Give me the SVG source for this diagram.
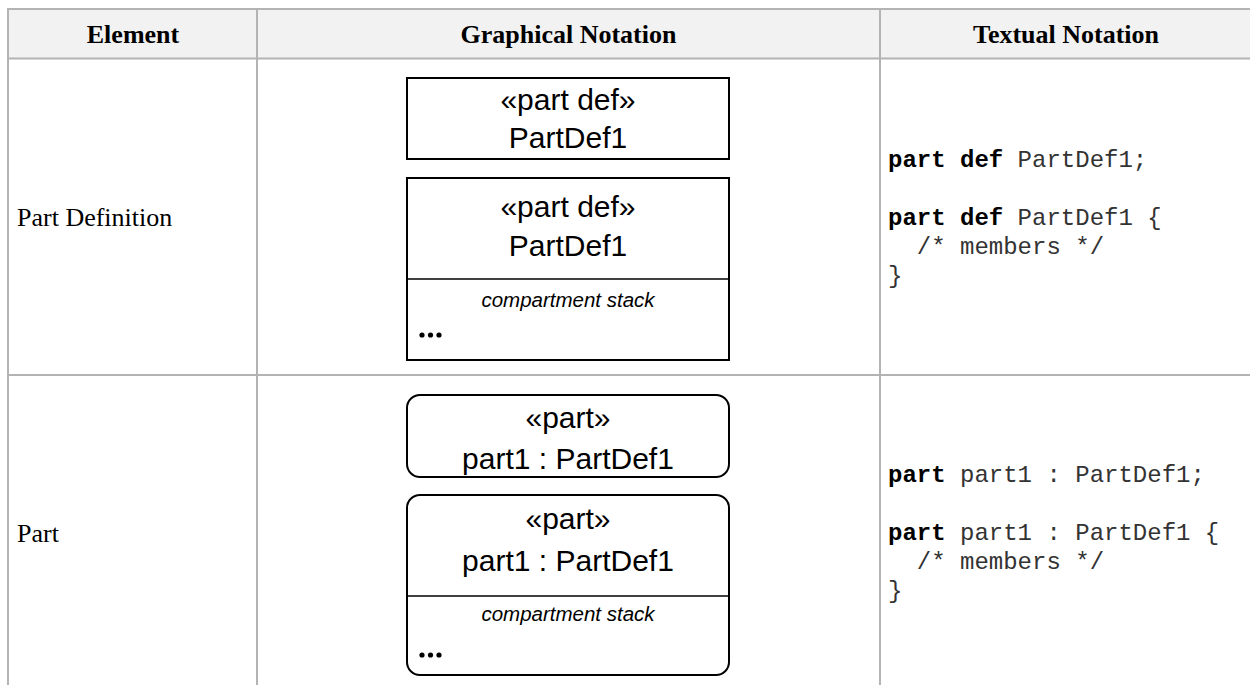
<svg xmlns="http://www.w3.org/2000/svg" width="1250" height="685" viewBox="0 0 1250 685">
<style>
.grid{stroke:#b3b3b3;stroke-width:2;fill:none}
.hdr{font-family:"Liberation Serif","Times New Roman",serif;font-weight:bold;font-size:26px;fill:#000;text-anchor:middle}
.cell{font-family:"Liberation Serif","Times New Roman",serif;font-size:26px;fill:#000}
.box{fill:#fff;stroke:#000;stroke-width:2}
.div{stroke:#000;stroke-width:1.5}
.lbl{font-family:"Liberation Sans",Arial,sans-serif;font-size:30px;fill:#000;text-anchor:middle}
.comp{font-family:"Liberation Sans",Arial,sans-serif;font-size:20.5px;font-style:italic;fill:#000;text-anchor:middle}
.dots{fill:#000}
.code{font-family:"Liberation Mono","Courier New",monospace;font-size:24px;fill:#333;white-space:pre}
.kw{font-weight:bold;fill:#000}
</style>
<defs>
<g id="dots3"><circle cx="0" cy="0" r="2.6"/><circle cx="8.5" cy="0" r="2.6"/><circle cx="17" cy="0" r="2.6"/></g>
</defs>
<g id="table">
<rect x="9" y="10" width="1241" height="48" fill="#f2f2f2"/>
<line class="grid" x1="8" y1="9" x2="1250" y2="9"/>
<line class="grid" x1="8" y1="8" x2="8" y2="685"/>
<line class="grid" x1="9" y1="58.5" x2="1250" y2="58.5"/>
<line class="grid" x1="9" y1="375" x2="1250" y2="375"/>
<line class="grid" x1="257" y1="10" x2="257" y2="685"/>
<line class="grid" x1="880" y1="10" x2="880" y2="685"/>
<text class="hdr" x="133" y="43">Element</text>
<text class="hdr" x="568.5" y="43">Graphical Notation</text>
<text class="hdr" x="1066" y="43">Textual Notation</text>
<text class="cell" x="17" y="226">Part Definition</text>
<text class="cell" x="17" y="542">Part</text>
</g>
<g id="partdef1">
<rect class="box" x="407" y="78" width="322" height="81"/>
<text class="lbl" x="568" y="110">«part def»</text>
<text class="lbl" x="568" y="148">PartDef1</text>
</g>
<g id="partdef2">
<rect class="box" x="407" y="178" width="322" height="182"/>
<text class="lbl" x="568" y="217">«part def»</text>
<text class="lbl" x="568" y="256">PartDef1</text>
<line class="div" x1="407" y1="279" x2="729" y2="279"/>
<text class="comp" x="568" y="307">compartment stack</text>
<use href="#dots3" x="422" y="335" class="dots"/>
</g>
<g id="part1">
<rect class="box" x="407" y="395" width="322" height="82" rx="13" ry="13"/>
<text class="lbl" x="568" y="428">«part»</text>
<text class="lbl" x="568" y="469">part1 : PartDef1</text>
</g>
<g id="part2">
<rect class="box" x="407" y="495" width="322" height="180" rx="13" ry="13"/>
<text class="lbl" x="568" y="529">«part»</text>
<text class="lbl" x="568" y="571">part1 : PartDef1</text>
<line class="div" x1="407" y1="596" x2="729" y2="596"/>
<text class="comp" x="568" y="621">compartment stack</text>
<use href="#dots3" x="422" y="655" class="dots"/>
</g>
<g id="code1">
<text class="code" x="888" y="167"><tspan class="kw">part def</tspan> PartDef1;</text>
<text class="code" x="888" y="225"><tspan class="kw">part def</tspan> PartDef1 {</text>
<text class="code" x="888" y="254">  /* members */</text>
<text class="code" x="888" y="283">}</text>
</g>
<g id="code2">
<text class="code" x="888" y="482"><tspan class="kw">part</tspan> part1 : PartDef1;</text>
<text class="code" x="888" y="540"><tspan class="kw">part</tspan> part1 : PartDef1 {</text>
<text class="code" x="888" y="569">  /* members */</text>
<text class="code" x="888" y="598">}</text>
</g>
<g id="connectors"></g>
</svg>
